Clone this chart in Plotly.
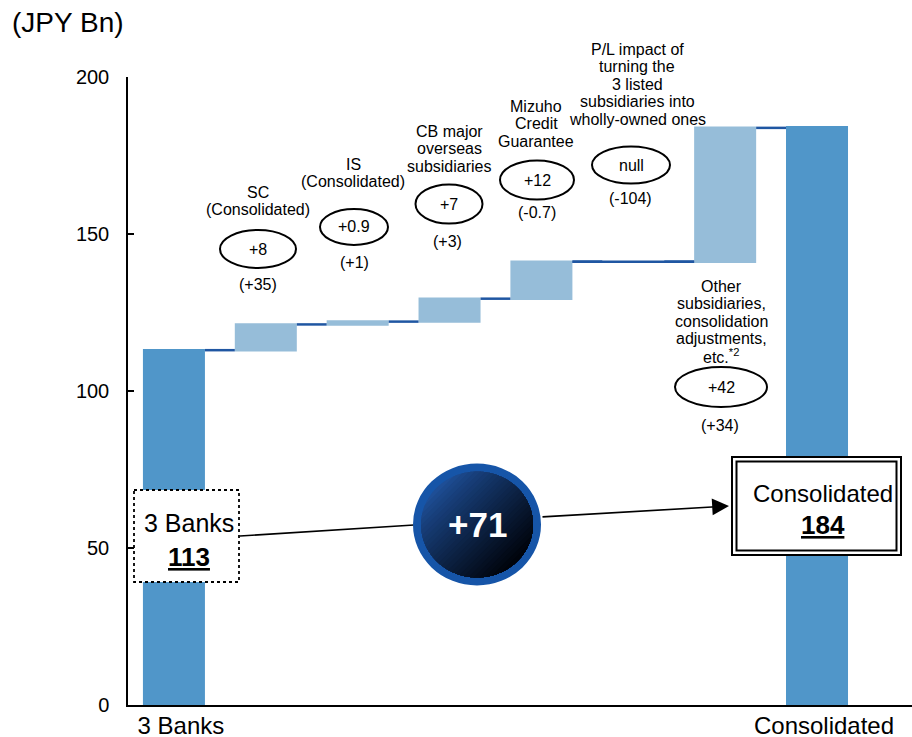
import math
import plotly.graph_objects as go

# ---------------- data ----------------
categories = ["3 Banks", "SC (Consolidated)", "IS (Consolidated)", "CB major overseas subsidiaries",
              "Mizuho Credit Guarantee", "P/L impact", "Other subsidiaries", "Consolidated"]
values = [113, 8.2, 0.9, 7.3, 11.8, 0, 42.6, 184]
measures = ["absolute", "relative", "relative", "relative", "relative", "relative", "relative", "absolute"]
tick_labels = ["3 Banks", "Consolidated"]
circle_labels = ["+8", "+0.9", "+7", "+12", "null", "+42"]
paren_labels = ["(+35)", "(+1)", "(+3)", "(-0.7)", "(-104)", "(+34)"]
item_labels = [
    ["SC", "(Consolidated)"],
    ["IS", "(Consolidated)"],
    ["CB major", "overseas", "subsidiaries"],
    ["Mizuho", "Credit", "Guarantee"],
    ["P/L impact of", "turning the", "3 listed", "subsidiaries into", "wholly-owned ones"],
    ["Other", "subsidiaries,", "consolidation", "adjustments,", "etc.<sup>*2</sup>"],
]
start_label, start_value = "3 Banks", "113"
end_label, end_value = "Consolidated", "184"
change_label = "+71"
unit_label = "(JPY Bn)"

# ---------------- layout helpers (pixel -> data / paper) ----------------
W, H = 912, 737
ML, MR, MT, MB = 128, 0, 77, 32
XMIN, XMAX = -0.5, 8.034
YMIN, YMAX = 0, 200
BAR_W = 0.675
pw = W - ML - MR
ph = H - MT - MB


def dx(px):
    return XMIN + (px - ML) * (XMAX - XMIN) / pw


def dy(py):
    return YMAX - (py - MT) * (YMAX - YMIN) / ph


def pyp(py):
    return (H - MB - py) / ph


FONT = "Liberation Sans, Arial, sans-serif"
TOTAL_C = "#5096c9"
INC_C = "#96bdd9"
CONN_C = "#1f56a2"

xs = list(range(len(categories)))

fig = go.Figure(go.Waterfall(
    x=xs, y=values, measure=measures, width=BAR_W,
    increasing=dict(marker=dict(color=INC_C)),
    decreasing=dict(marker=dict(color=INC_C)),
    totals=dict(marker=dict(color=TOTAL_C)),
    connector=dict(line=dict(color=CONN_C, width=2.5), mode="between"),
    textinfo="none", showlegend=False, hoverinfo="skip",
))

shapes = []
annotations = []

# continuous connector across the zero-height (null) step
null_idx = 5
level = sum(values[:null_idx])
shapes.append(dict(type="line", xref="x", yref="y", x0=null_idx - 1 + BAR_W / 2, x1=null_idx + 1 - BAR_W / 2,
                   y0=level, y1=level, line=dict(color=CONN_C, width=2.5), layer="above"))


def text_ann(px, py, text, size, color="black"):
    annotations.append(dict(x=dx(px), y=pyp(py), xref="x", yref="paper", text=text, showarrow=False,
                            xanchor="center", yanchor="middle",
                            font=dict(size=size, color=color, family=FONT)))


# item labels (cx, first line y)
label_pos = [(258, 192), (353, 164), (449, 131), (536, 106), (637, 49), (721, 286)]
ellipse_pos = [(258, 249, 76, 38), (354, 227, 68, 36), (449, 204, 67, 39),
               (537, 180, 74, 39), (631, 165, 78, 37), (721, 387, 92, 40)]
paren_pos = [(258, 284), (354, 262), (447, 241), (537, 213), (630, 198), (720, 425)]
SP = 17.5

for lines, (cx, y0) in zip(item_labels, label_pos):
    for i, t in enumerate(lines):
        text_ann(cx, y0 + i * SP, t, 16)

for lab, (cx, cy, w, h) in zip(circle_labels, ellipse_pos):
    shapes.append(dict(type="circle", xref="x", yref="y", xsizemode="pixel", ysizemode="pixel",
                       xanchor=dx(cx), yanchor=dy(cy), x0=-w / 2, x1=w / 2, y0=-h / 2, y1=h / 2,
                       line=dict(color="black", width=2), fillcolor="rgba(0,0,0,0)", layer="above"))
    text_ann(cx, cy, lab, 16)

for lab, (cx, cy) in zip(paren_labels, paren_pos):
    text_ann(cx, cy, lab, 16)

# connecting line from 3 Banks box to circle
shapes.append(dict(type="line", xref="x", yref="y", x0=dx(240), y0=dy(536), x1=dx(414), y1=dy(525),
                   line=dict(color="black", width=1.6), layer="above"))
# arrow from circle to Consolidated box
annotations.append(dict(x=dx(729), y=dy(506), ax=dx(541), ay=dy(517), xref="x", yref="y",
                        axref="x", ayref="y", text="", showarrow=True, arrowhead=2,
                        arrowsize=2.1, arrowwidth=1.6, arrowcolor="black"))

# 3 Banks box (dotted)
shapes.append(dict(type="rect", xref="x", yref="y", x0=dx(134), x1=dx(239), y0=dy(490), y1=dy(582),
                   line=dict(color="black", width=1.8, dash="dot"), fillcolor="white", layer="above"))
text_ann(188.5, 523, start_label, 25)
text_ann(188.5, 557, "<b><u>" + start_value + "</u></b>", 26)

# Consolidated box (double border)
shapes.append(dict(type="rect", xref="x", yref="y", x0=dx(732), x1=dx(901), y0=dy(457), y1=dy(555),
                   line=dict(color="black", width=2), fillcolor="white", layer="above"))
shapes.append(dict(type="rect", xref="x", yref="y", x0=dx(736.5), x1=dx(896.5), y0=dy(461.5), y1=dy(550.5),
                   line=dict(color="black", width=2), fillcolor="white", layer="above"))
text_ann(823, 493, end_label, 24)
text_ann(823, 525, "<b><u>" + end_value + "</u></b>", 26)

# +71 circle: blue ring + linear diagonal gradient built from circular segments
CX, CY = 477, 524.5
RX, RY = 64, 61
shapes.append(dict(type="circle", xref="x", yref="y", xsizemode="pixel", ysizemode="pixel",
                   xanchor=dx(CX), yanchor=dy(CY), x0=-RX, x1=RX, y0=-RY, y1=RY,
                   line=dict(width=0), fillcolor="#1655a8", layer="above"))
RXI, RYI = RX - 8, RY - 8
c0 = (30, 78, 150)
c1 = (0, 4, 12)
NB = 28
ux, uy = 0.70710678, 0.70710678  # direction toward bottom-right (pixel space, y down)
smax = math.sqrt((RXI * ux) ** 2 + (RYI * uy) ** 2)
NS = 720
pts = [(RXI * math.cos(2 * math.pi * k / NS), RYI * math.sin(2 * math.pi * k / NS)) for k in range(NS)]
start = min(range(NS), key=lambda k: pts[k][0] * ux + pts[k][1] * uy)
for b in range(NB):
    thr = -smax + 2 * smax * b / NB
    t = b / (NB - 1)
    col = "rgb(%d,%d,%d)" % tuple(int(round(a + (c - a) * (t ** 0.85))) for a, c in zip(c0, c1))
    poly = []
    for j in range(NS + 1):
        k = (start + j) % NS
        p = pts[k]
        q = pts[(k + 1) % NS]
        sp = p[0] * ux + p[1] * uy
        sq = q[0] * ux + q[1] * uy
        if sp >= thr:
            poly.append(p)
        if (sp - thr) * (sq - thr) < 0:
            f = (thr - sp) / (sq - sp)
            poly.append((p[0] + f * (q[0] - p[0]), p[1] + f * (q[1] - p[1])))
    if len(poly) < 3:
        continue
    path = "M " + " L ".join("%.5f,%.5f" % (dx(CX + x), dy(CY + y)) for x, y in poly) + " Z"
    shapes.append(dict(type="path", xref="x", yref="y", path=path, line=dict(width=0),
                       fillcolor=col, layer="above"))
text_ann(CX, CY, "<b>" + change_label + "</b>", 35, "white")

# unit label
annotations.append(dict(x=(10 - ML) / pw, y=pyp(22), xref="paper", yref="paper", xanchor="left",
                        yanchor="middle", text=unit_label, showarrow=False,
                        font=dict(size=28, color="black", family=FONT)))

fig.update_layout(
    width=W, height=H,
    margin=dict(l=ML, r=MR, t=MT, b=MB, autoexpand=False),
    paper_bgcolor="white", plot_bgcolor="white",
    font=dict(family=FONT, color="black"),
    shapes=shapes, annotations=annotations,
    xaxis=dict(range=[XMIN, XMAX], tickvals=[0, 7], ticktext=tick_labels, showline=True,
               linecolor="black", linewidth=2, ticks="", showgrid=False, zeroline=False,
               tickfont=dict(size=24, family=FONT, color="black"), ticklabelshift=7,
               ticklabelstandoff=-2, fixedrange=True),
    yaxis=dict(range=[YMIN, YMAX], tickvals=[0, 50, 100, 150, 200], showline=True,
               linecolor="black", linewidth=1.5, ticks="inside", ticklen=6, tickwidth=1.5,
               tickcolor="black", showgrid=False, zeroline=False, ticklabelstandoff=13,
               tickfont=dict(size=20, family=FONT, color="black"), fixedrange=True),
)

fig.write_html("out.html")
